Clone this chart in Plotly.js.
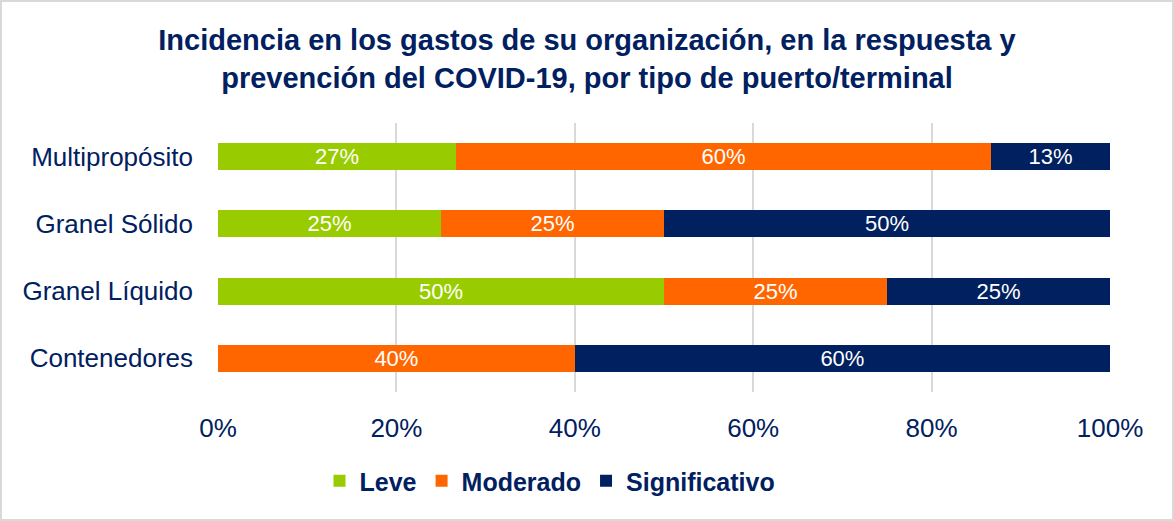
<!DOCTYPE html>
<html>
<head>
<meta charset="utf-8">
<script src="https://cdn.plot.ly/plotly-3.0.1.min.js"></script>
<style>
  html, body { margin: 0; padding: 0; background: #ffffff; }
  #wrap { position: relative; width: 1174px; height: 521px; }
  #chart { position: absolute; left: 0; top: 0; width: 1174px; height: 521px; }
  #frame { position: absolute; left: 0; top: 0; width: 1174px; height: 521px; box-sizing: border-box; border: 2px solid #d9d9d9; pointer-events: none; }
</style>
</head>
<body>
<div id="wrap">
  <div id="chart"></div>
  <div id="frame"></div>
</div>
<script>
const categories = ["Multipropósito", "Granel Sólido", "Granel Líquido", "Contenedores"];
const leve = [26.67, 25, 50, 0];
const moderado = [60, 25, 25, 40];
const significativo = [13.33, 50, 25, 60];
const seriesNames = ["Leve", "Moderado", "Significativo"];
const seriesColors = ["#99CC00", "#FF6600", "#002060"];
const xTicks = [0, 20, 40, 60, 80, 100];

const FONT = "Arial, 'Liberation Sans', sans-serif";
const NAVY = "#002060";

function labels(vals) {
  return vals.map(v => v > 0 ? Math.round(v) + "%" : "");
}

const traces = [leve, moderado, significativo].map((vals, i) => ({
  type: "bar",
  orientation: "h",
  name: seriesNames[i],
  y: categories,
  x: vals,
  text: labels(vals),
  textposition: "inside",
  insidetextanchor: "middle",
  constraintext: "none",
  textfont: { family: FONT, size: 22, color: "#ffffff" },
  marker: { color: seriesColors[i], line: { width: 0 } },
  hoverinfo: "skip"
}));

const layout = {
  width: 1174,
  height: 521,
  paper_bgcolor: "#ffffff",
  plot_bgcolor: "#ffffff",
  barmode: "stack",
  bargap: 0.6,
  margin: { l: 218, r: 64, t: 123, b: 129, pad: 0 },
  title: {
    text: "Incidencia en los gastos de su organización, en la respuesta y<br>prevención del COVID-19, por tipo de puerto/terminal",
    font: { family: FONT, size: 29, color: NAVY, weight: "bold" },
    x: 0.5,
    xref: "container",
    xanchor: "center",
    y: 1 - 50 / 521,
    yref: "container",
    yanchor: "top"
  },
  xaxis: {
    range: [0, 100],
    tickvals: xTicks,
    ticktext: xTicks.map(v => v + "%"),
    showgrid: true,
    gridcolor: "#d9d9d9",
    gridwidth: 2,
    zeroline: false,
    showline: false,
    ticks: "",
    ticklabelstandoff: 18,
    tickfont: { family: FONT, size: 26, color: NAVY },
    fixedrange: true
  },
  yaxis: {
    categoryorder: "array",
    categoryarray: categories,
    autorange: "reversed",
    showgrid: false,
    zeroline: false,
    showline: false,
    ticks: "",
    ticklabelstandoff: 24,
    tickfont: { family: FONT, size: 26, color: NAVY },
    fixedrange: true
  },
  showlegend: true,
  legend: {
    orientation: "h",
    x: 550 / 1174,
    xref: "container",
    xanchor: "center",
    y: 40 / 521,
    yref: "container",
    yanchor: "middle",
    font: { family: FONT, size: 25, color: NAVY, weight: "bold" },
    traceorder: "normal",
    itemclick: false,
    itemdoubleclick: false
  }
};

Plotly.newPlot("chart", traces, layout, { displayModeBar: false, staticPlot: true });
</script>
</body>
</html>
